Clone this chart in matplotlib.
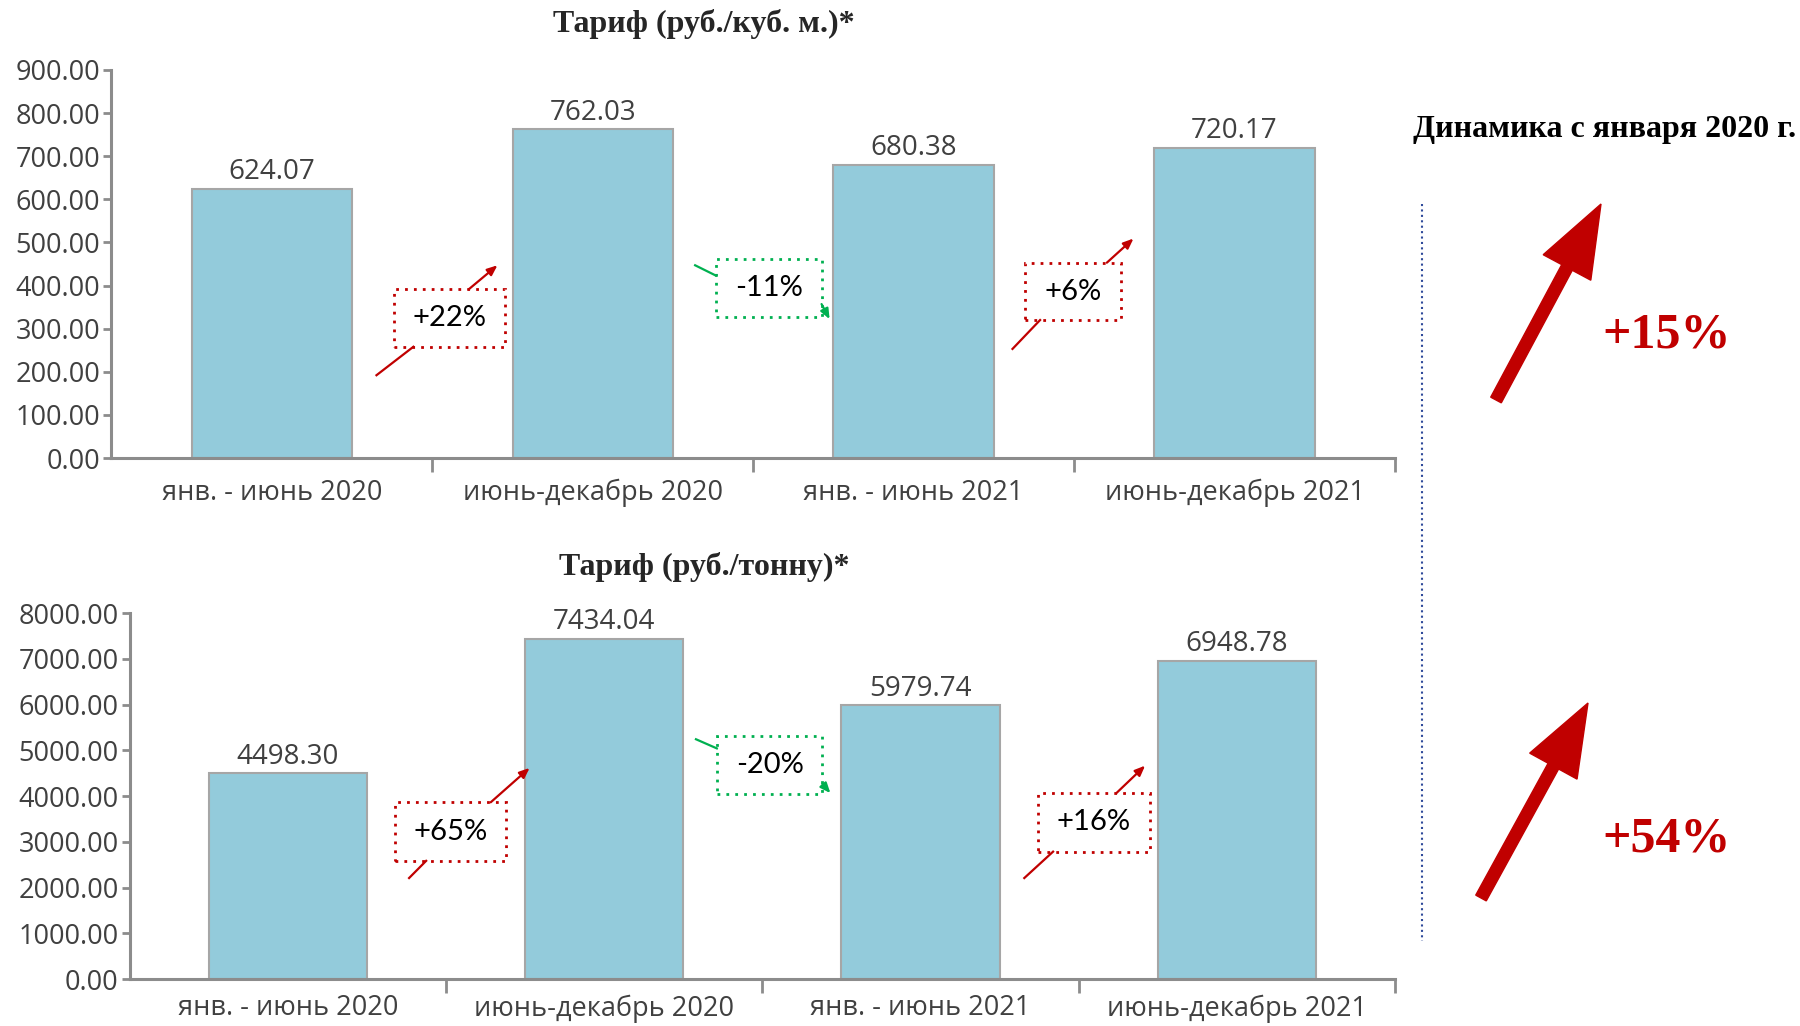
import matplotlib
matplotlib.use("Agg")
import matplotlib.pyplot as plt
from matplotlib.patches import Rectangle, FancyArrow

# data
periods = ["янв. - июнь 2020", "июнь-декабрь 2020", "янв. - июнь 2021", "июнь-декабрь 2021"]
tariff_m3 = [624.07, 762.03, 680.38, 720.17]
tariff_t = [4498.30, 7434.04, 5979.74, 6948.78]

title_m3 = "Тариф (руб./куб. м.)*"
title_t = "Тариф (руб./тонну)*"
side_title = "Динамика с января 2020 г."

BAR = "#93CBDB"
EDGE = "#A6A6A6"
AXC = "#8C8C8C"
TXT = "#404040"
RED = "#C00000"
GREEN = "#00B050"

SANS = ["Open Sans", "DejaVu Sans"]
SERIF = ["Liberation Serif", "DejaVu Serif"]


def pct(a, b):
    return round((b / a - 1) * 100)


def draw_panel(ax, values, ymax, ystep, boxes, xpad):
    x = range(len(values))
    ax.bar(x, values, width=0.5, color=BAR, edgecolor=EDGE, linewidth=1.5, zorder=2)
    for i, v in enumerate(values):
        ax.annotate(f"{v:.2f}", (i, v), xytext=(0, 12), textcoords="offset points",
                    ha="center", va="center", fontsize=20, color=TXT, family=SANS)
    ax.set_xlim(-0.5, 3.5)
    ax.set_ylim(0, ymax)
    n = int(ymax / ystep) + 1
    ax.set_yticks([k * ystep for k in range(n)])
    ax.set_yticklabels([f"{k * ystep:.2f}" for k in range(n)],
                       fontsize=19.5, color=TXT, family=SANS)
    ax.set_xticks(list(x))
    ax.set_xticklabels(periods, fontsize=19.5, color=TXT, family=SANS)
    ax.set_xticks([0.5, 1.5, 2.5, 3.5], minor=True)
    ax.tick_params(axis="x", which="major", length=0, pad=xpad)
    ax.tick_params(axis="x", which="minor", length=10, width=2, color=AXC)
    ax.tick_params(axis="y", length=6, width=2, color=AXC, pad=2)
    for s in ["top", "right"]:
        ax.spines[s].set_visible(False)
    for s in ["left", "bottom"]:
        ax.spines[s].set_color(AXC)
        ax.spines[s].set_linewidth(2.2)

    # change boxes between bars
    for i, (cx, cy, w, h, seg, arr) in enumerate(boxes):
        p = pct(values[i], values[i + 1])
        col = RED if p > 0 else GREEN
        label = f"+{p}%" if p > 0 else f"{p}%"
        ax.add_patch(Rectangle((cx - w / 2, cy - h / 2), w, h, fill=False, edgecolor=col,
                               linestyle=(0, (1, 2.2)), linewidth=2, zorder=3))
        ax.text(cx, cy, label, ha="center", va="center", fontsize=21, color="black",
                family=["Lato", "DejaVu Sans"], zorder=4)
        ax.plot([seg[0], seg[2]], [seg[1], seg[3]], color=col, lw=1.6, zorder=3)
        ax.annotate("", xy=(arr[2], arr[3]), xytext=(arr[0], arr[1]),
                    arrowprops=dict(arrowstyle="-|>,head_length=0.6,head_width=0.25",
                                    color=col, lw=1.6, shrinkA=0, shrinkB=0), zorder=3)


fig = plt.figure(figsize=(18, 10.26), dpi=100)

ax1 = fig.add_axes([0.0619, 0.5536, 0.7131, 0.3782])
boxes1 = [
    (0.554, 325, 0.348, 133, (0.326, 192, 0.441, 258), (0.613, 391, 0.703, 447)),
    (1.548, 394, 0.330, 133, (1.319, 447, 1.384, 423), (1.713, 357, 1.738, 322)),
    (2.496, 386, 0.300, 133, (2.308, 253, 2.394, 320), (2.602, 453, 2.685, 509)),
]
draw_panel(ax1, tariff_m3, 900, 100, boxes1, 15)

ax2 = fig.add_axes([0.0721, 0.0458, 0.7029, 0.3567])
boxes2 = [
    (0.515, 3222, 0.352, 1279, (0.383, 2207, 0.437, 2583), (0.641, 3862, 0.764, 4614)),
    (1.523, 4677, 0.334, 1279, (1.290, 5241, 1.356, 5041), (1.690, 4263, 1.715, 4063)),
    (2.548, 3423, 0.352, 1279, (2.328, 2207, 2.419, 2784), (2.619, 4063, 2.710, 4664)),
]
draw_panel(ax2, tariff_t, 8000, 1000, boxes2, 11)

fig.text(0.391, 0.977, title_m3, ha="center", va="center", fontsize=23,
         fontweight="bold", color="#262626", family=SERIF)
fig.text(0.391, 0.447, title_t, ha="center", va="center", fontsize=23,
         fontweight="bold", color="#262626", family=SERIF)

# right side summary
ov = fig.add_axes([0, 0, 1, 1], zorder=-1)
ov.set_xlim(0, 1800)
ov.set_ylim(1026, 0)
ov.axis("off")
ov.plot([1422, 1422], [204, 941], color="#2F4A9A", lw=1.5, ls=(0, (1, 1.6)))
ov.text(1605, 130, side_title, ha="center", va="center", fontsize=23,
        fontweight="bold", color="black", family=SERIF)
total_m3 = pct(tariff_m3[0], tariff_m3[-1])
total_t = pct(tariff_t[0], tariff_t[-1])
ov.add_patch(FancyArrow(1496, 400, 105, -196, width=12, head_width=54, head_length=72,
                        length_includes_head=True, color=RED))
ov.add_patch(FancyArrow(1481, 898, 107, -195, width=12, head_width=54, head_length=72,
                        length_includes_head=True, color=RED))
ov.text(1667, 336, f"+{total_m3}%", ha="center", va="center", fontsize=36,
        fontweight="bold", color=RED, family=SERIF)
ov.text(1667, 840, f"+{total_t}%", ha="center", va="center", fontsize=36,
        fontweight="bold", color=RED, family=SERIF)

fig.savefig("out.png", dpi=100)
